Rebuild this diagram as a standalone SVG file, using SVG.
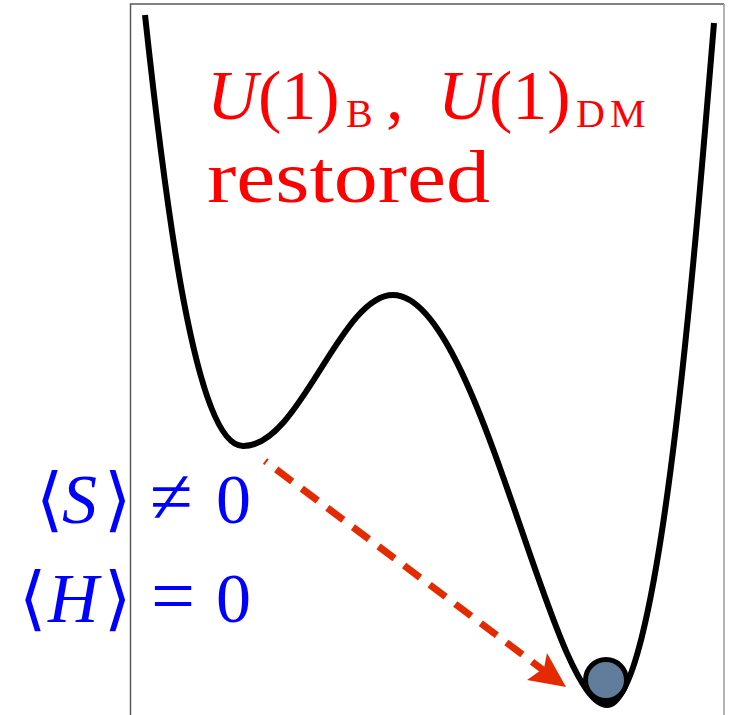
<svg xmlns="http://www.w3.org/2000/svg" width="735" height="715" viewBox="0 0 735 715">
<style>
.frame{fill:none;stroke:#5a5a5a;stroke-width:1.5}
.curve{fill:none;stroke:#000;stroke-width:6;stroke-linecap:butt}
.red{fill:#ff0000;font-family:"Liberation Serif","DejaVu Serif",serif}
.blue{fill:#0000ff;font-family:"Liberation Serif","DejaVu Serif",serif;font-size:70px}
.br{font-family:"DejaVu Sans","DejaVu Serif",sans-serif}
.op{font-size:78px}
.it{font-style:italic}
.arrow{fill:none;stroke:#e62a00;stroke-width:7;stroke-dasharray:20 12;stroke-dashoffset:18}
</style>
<rect width="735" height="715" fill="#fff"/>
<g id="frame">
<path class="frame" d="M130.5,715 V4 H724"/>
<path class="frame" d="M724,4 V715" style="stroke:#9a9a9a"/>
</g>
<g id="potential">
<path class="curve" d="M145,15 C165,200 195,446 243,446 C300,447 340,295 393,295 C480,295 550,705 607,705 C660,705 695,250 714,23"/>
</g>
<g id="connectors">
<line class="arrow" x1="265" y1="461" x2="543" y2="670"/>
<polygon points="566,687 547,653 544,668 527,680" fill="#e62a00"/>
</g>
<g id="ball">
<circle cx="606" cy="680" r="20.5" fill="#627d9c" stroke="#000" stroke-width="5"/>
</g>
<g id="label-restored">
<text class="red" font-size="70" y="119"><tspan class="it" x="207">U</tspan><tspan x="258">(1)</tspan><tspan x="346" y="127" font-size="40">B</tspan><tspan x="386" y="119">, </tspan><tspan class="it" x="438">U</tspan><tspan x="489">(1)</tspan><tspan x="576" y="127" font-size="40">D</tspan><tspan x="610" y="127" font-size="40">M</tspan></text>
<text class="red" font-size="74" x="207" y="202" textLength="283" lengthAdjust="spacingAndGlyphs">restored</text>
</g>
<g id="label-vev">
<text class="blue" y="523"><tspan class="br" x="36">⟨</tspan><tspan class="it" x="62">S</tspan><tspan class="br" x="104">⟩</tspan><tspan class="op" x="150">≠</tspan><tspan x="216">0</tspan></text>
<text class="blue" y="622"><tspan class="br" x="19">⟨</tspan><tspan class="it" x="48">H</tspan><tspan class="br" x="104">⟩</tspan><tspan class="op" x="151">=</tspan><tspan x="216">0</tspan></text>
</g>
</svg>
